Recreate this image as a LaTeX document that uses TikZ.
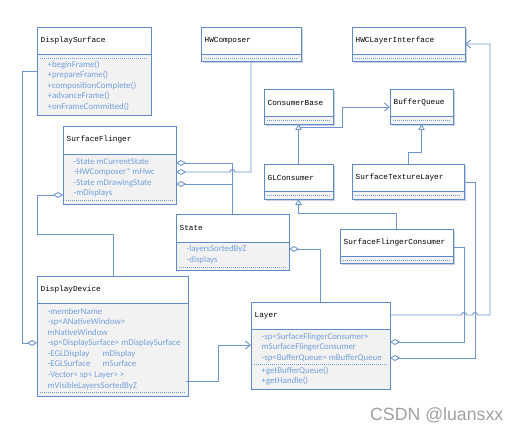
\documentclass[tikz,border=0pt]{standalone}
\usepackage{fontspec}
\setmainfont{Carlito}
\newfontfamily\titlefont{Liberation Mono}
\newfontfamily\wmfont{Liberation Sans}
\usetikzlibrary{arrows.meta,calc}
\definecolor{bordc}{RGB}{95,140,200}
\definecolor{linec}{RGB}{110,150,205}
\definecolor{bodyc}{RGB}{242,242,242}
\definecolor{txtc}{RGB}{115,160,218}
\definecolor{shadc}{RGB}{200,210,225}
\definecolor{wmc}{RGB}{160,160,160}
\tikzset{
  classbox/.style={rectangle, draw=bordc, line width=0.95pt, fill=white, inner sep=0pt, outer sep=0pt},
  titletext/.style={font=\titlefont\fontsize{7.7}{9}\selectfont, text=black, inner sep=0pt},
  bodytext/.style={font=\fontsize{8.8}{10.55}\selectfont, text=txtc, align=left, inner sep=0pt},
  dotl/.style={draw=txtc, line width=0.6pt, dash pattern=on 1pt off 1pt},
  conn/.style={draw=linec, line width=0.95pt},
  agg/.style={conn, -{Diamond[open, length=10pt, width=6pt, line width=0.9pt]}},
  inh/.style={conn, -{Triangle[open, length=6pt, width=6.5pt, line width=0.9pt]}},
  assoc/.style={conn, -{Straight Barb[length=5pt, width=8pt, line width=0.9pt]}},
  wm/.style={font=\wmfont\fontsize{17.7}{20}\selectfont, text=wmc, inner sep=0pt}
}
% name, x, y, w, h, divider offset, title, first-line centre offset, body
\newcommand{\umlclass}[9]{%
  \node[classbox, minimum width=#4pt, minimum height=#5pt, anchor=north west] (#1) at (#2,#3) {};
  \fill[bodyc] ($(#1.north west)+(0,#6)$) rectangle (#1.south east);
  \draw[bordc, line width=0.95pt] (#1.north west) rectangle (#1.south east);
  \draw[bordc, line width=0.95pt] ($(#1.north west)+(0,#6)$) -- ($(#1.north east)+(0,#6)$);
  \node[titletext, anchor=west] (#1-t) at ($(#1.north west)+(3.5,#6/2)$) {#7};
  \node[bodytext, anchor=north west] (#1-b) at ($(#1.north west)+(10.5,#8-5)$) {\rule{0pt}{7pt}#9};
}
\newcommand{\dotsep}[2]{%
  \draw[dotl] ($(#1.north west)+(3,#2)$) -- ($(#1.north east)+(-3,#2)$);
}
\newcommand{\shadowat}[4]{%
  \fill[shadc] (#1+2,#2+2) rectangle (#1+#3+2,#2+#4+2);
}
\begin{document}
\begin{tikzpicture}[x=1pt,y=-1pt]
\useasboundingbox (0,0) rectangle (519,433);

% shadows
\shadowat{201}{27}{100}{34}
\shadowat{352}{27}{113}{34}
\shadowat{264}{89}{69}{35}
\shadowat{390}{89}{63}{35}
\shadowat{264}{164}{69}{35}
\shadowat{352}{164}{112}{35}
\shadowat{340}{229}{113}{34}

% classes
\umlclass{ds}{37}{27}{114}{88}{27}{DisplaySurface}{38}{+beginFrame()\\+prepareFrame()\\+compositionComplete()\\+advanceFrame()\\+onFrameCommitted()}
\dotsep{ds}{31}
\umlclass{hwc}{201}{27}{100}{34}{27}{HWComposer}{0}{}
\dotsep{hwc}{31}
\umlclass{hwcli}{352}{27}{113}{34}{27}{HWCLayerInterface}{0}{}
\dotsep{hwcli}{31}
\umlclass{cb}{264}{89}{69}{35}{27}{ConsumerBase}{0}{}
\dotsep{cb}{31}
\umlclass{bq}{390}{89}{63}{35}{27}{BufferQueue}{0}{}
\dotsep{bq}{31}
\umlclass{sf}{63}{126}{113}{78}{28}{SurfaceFlinger}{36}{-State mCurrentState\\-HWComposer* mHwc\\-State mDrawingState\\-mDisplays}
\dotsep{sf}{74}
\umlclass{glc}{264}{164}{69}{35}{27}{GLConsumer}{0}{}
\dotsep{glc}{31}
\umlclass{stl}{352}{164}{112}{35}{27}{SurfaceTextureLayer}{0}{}
\dotsep{stl}{31}
\umlclass{state}{176}{214}{113}{56}{28}{State}{35.5}{-layersSortedByZ\\-displays}
\dotsep{state}{53}
\umlclass{sfc}{340}{229}{113}{34}{27}{SurfaceFlingerConsumer}{0}{}
\dotsep{sfc}{31}
\umlclass{dd}{37}{276}{151}{120}{27}{DisplayDevice}{36}{-memberName\\-sp<ANativeWindow>\\mNativeWindow\\-sp<DisplaySurface> mDisplaySurface\\\makebox[55pt][l]{-EGLDisplay}mDisplay\\\makebox[55pt][l]{-EGLSurface}mSurface\\-Vector< sp< Layer> >\\mVisibleLayersSortedByZ}
\dotsep{dd}{116}
\umlclass{layer}{251}{302}{139}{87}{27}{Layer}{35}{-sp<SurfaceFlingerConsumer>\\mSurfaceFlingerConsumer\\-sp<BufferQueue> mBufferQueue}
\dotsep{layer}{62}
\node[bodytext, anchor=north west] (layer-ops) at ($(layer.north west)+(10.5,64)$) {\rule{0pt}{7pt}+getBufferQueue()\\+getHandle()};

% connectors
\draw[agg] ($(ds.north west)+(0,44)$) -- ++(-15,0) |- ($(dd.north west)+(0,67)$);
\draw[agg] ($(dd.north west)+(76,0)$) -- ++(0,-42) -| ($(sf.north west)+(-26,69)$) -- ($(sf.north west)+(0,69)$);
\coordinate (hopA) at ($(state.north)+(0,-42)$);
\draw[agg] (hwc.south) |- ($(hopA)+(2.5,0)$) .. controls +(0,-3.3) and +(0,-3.3) .. ($(hopA)+(-2.5,0)$) -- ($(sf.north east)+(0,46)$);
\draw[agg] (state.north) |- ($(sf.north east)+(0,37)$);
\draw[agg] (state.north) |- ($(sf.north east)+(0,58)$);
\draw[agg] (layer.north) |- ($(state.north east)+(0,35)$);
\draw[assoc] ($(dd.north east)+(-2,105)$) -- ++(32,0) |- ($(layer.north west)+(0,43)$);
\draw[agg] ($(sfc.north east)+(0,18)$) -- ($(sfc.north east)+(11,18)$) |- ($(layer.north east)+(0,40)$);
\draw[agg] ($(stl.north east)+(0,18)$) -- ($(stl.north east)+(11,18)$) |- ($(layer.north east)+(0,56)$);
\draw[assoc] ($(layer.north east)+(0,13)$) -- ($(sfc.north east)+(8.5,86)$)
  .. controls +(0,-3.3) and +(0,-3.3) .. ($(sfc.north east)+(13.5,86)$)
  -- ($(stl.north east)+(8.5,151)$)
  .. controls +(0,-3.3) and +(0,-3.3) .. ($(stl.north east)+(13.5,151)$)
  -- ($(hwcli.north east)+(25,288)$) |- ($(hwcli.north east)+(0,17)$);
\draw[assoc] ($(cb.south)+(1.8,3)$) -- ++(42,0) |- ($(bq.north west)+(0,18)$);
\draw[inh] (glc.north) -- (cb.south);
\draw[inh] (stl.north) -- ++(0,-12) -| (bq.south);
\draw[inh] (sfc.north) -- ++(0,-16) -| (glc.south);

% watermark
\node[wm, anchor=west] (wm) at (370,415) {CSDN @luansxx};
\end{tikzpicture}
\end{document}
